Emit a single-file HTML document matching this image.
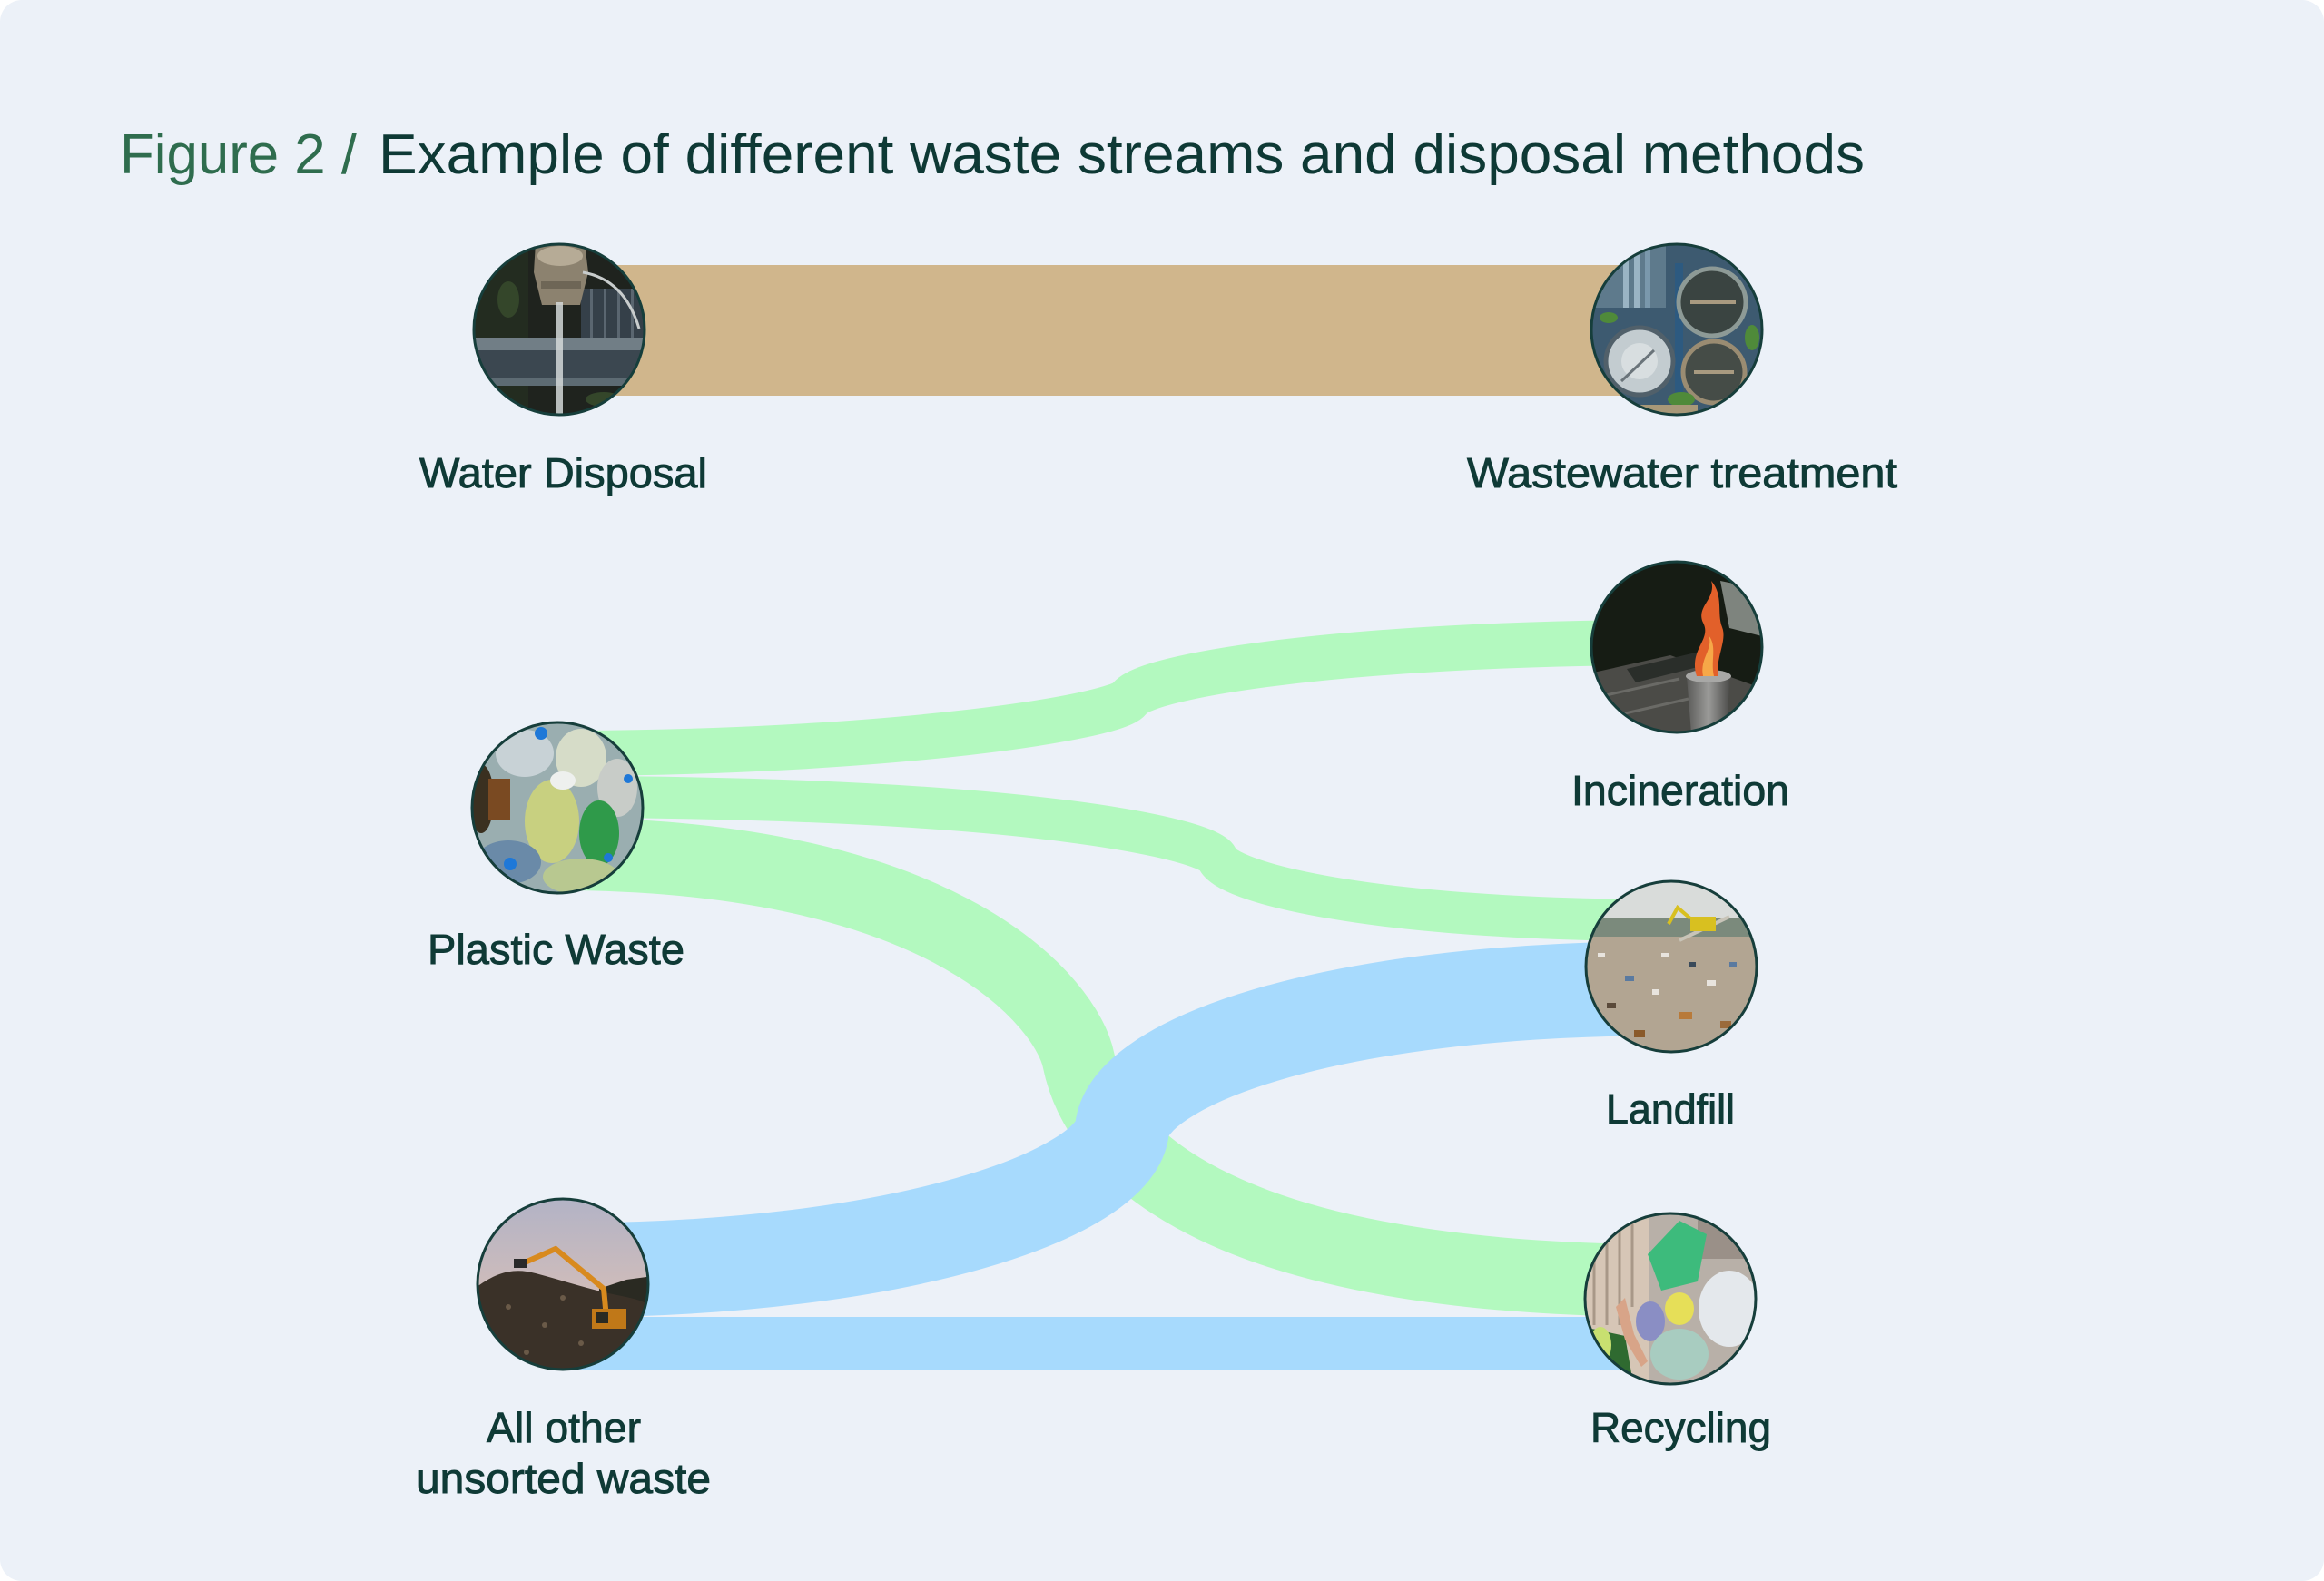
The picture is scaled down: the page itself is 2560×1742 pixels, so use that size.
<!DOCTYPE html>
<html>
<head>
<meta charset="utf-8">
<style>
html,body{margin:0;padding:0;background:#ffffff;width:2560px;height:1742px;overflow:hidden}
svg{display:block}
text{font-family:"Liberation Sans",Arial,sans-serif}
</style>
</head>
<body>
<svg width="2560" height="1742" viewBox="0 0 2560 1742" xmlns="http://www.w3.org/2000/svg">
<defs>
  <clipPath id="cw"><circle cx="616" cy="363" r="94"/></clipPath>
  <clipPath id="ct"><circle cx="1847" cy="363" r="94"/></clipPath>
  <clipPath id="ci"><circle cx="1847" cy="713" r="94"/></clipPath>
  <clipPath id="cp"><circle cx="614" cy="890" r="94"/></clipPath>
  <clipPath id="cl"><circle cx="1841" cy="1065" r="94"/></clipPath>
  <clipPath id="cu"><circle cx="620" cy="1415" r="94"/></clipPath>
  <clipPath id="cr"><circle cx="1840" cy="1431" r="94"/></clipPath>
  <linearGradient id="sky" x1="0" y1="0" x2="0" y2="1">
    <stop offset="0" stop-color="#b2b3c6"/>
    <stop offset="1" stop-color="#e8c4b0"/>
  </linearGradient>
  <linearGradient id="bin" x1="0" y1="0" x2="1" y2="0">
    <stop offset="0" stop-color="#5a5a58"/>
    <stop offset="0.5" stop-color="#9a9a98"/>
    <stop offset="1" stop-color="#4a4a48"/>
  </linearGradient>
</defs>

<!-- card -->
<rect x="0" y="0" width="2560" height="1742" rx="24" ry="24" fill="#ecf1f8"/>

<!-- title -->
<text x="132" y="191" font-size="62" fill="#2f6d4e" textLength="261" lengthAdjust="spacingAndGlyphs">Figure 2 /</text>
<text x="417" y="191" font-size="62" fill="#0e3935" textLength="1637" lengthAdjust="spacingAndGlyphs">Example of different waste streams and disposal methods</text>

<!-- tan flow -->
<rect x="616" y="292" width="1231" height="144" fill="#d0b68c"/>

<!-- green flows -->
<g fill="none" stroke="#b3f9bf">
  <path d="M614,830 C980,830 1232,790 1244,770 C1259,745 1480,708 1847,708" stroke-width="50"/>
  <path d="M614,878 C1150,878 1335,927 1341,946 C1348,970 1500,1014 1841,1014" stroke-width="46"/>
  <path d="M614,941 C1050,941 1176,1109 1188,1168 C1210,1276 1350,1411 1840,1411" stroke-width="80"/>
</g>

<!-- blue flows -->
<path d="M620,1399.5 C1000,1399.5 1228,1314 1236,1244 C1244,1174 1450,1089 1841,1089" fill="none" stroke="#a7dafd" stroke-width="104"/>
<rect x="620" y="1451" width="1220" height="58.5" fill="#a7dafd"/>

<!-- Water Disposal image -->
<g clip-path="url(#cw)">
  <rect x="520" y="267" width="192" height="194" fill="#1f231e"/>
  <rect x="520" y="267" width="62" height="194" fill="#232c20"/>
  <rect x="640" y="318" width="74" height="56" fill="#354049"/>
  <rect x="650" y="318" width="3" height="56" fill="#5a6670"/>
  <rect x="665" y="318" width="3" height="56" fill="#5a6670"/>
  <rect x="680" y="318" width="3" height="56" fill="#5a6670"/>
  <rect x="695" y="318" width="3" height="56" fill="#5a6670"/>
  <rect x="520" y="372" width="194" height="14" fill="#717e86"/>
  <rect x="520" y="386" width="194" height="30" fill="#3b4750"/>
  <rect x="520" y="416" width="194" height="9" fill="#5d6b73"/>
  <path d="M590,267 L644,267 L648,300 L639,336 L597,336 L588,300 Z" fill="#8c826f"/>
  <ellipse cx="617" cy="282" rx="25" ry="11" fill="#b6ab96"/>
  <rect x="596" y="310" width="44" height="8" fill="#6e6656"/>
  <rect x="612" y="333" width="8" height="130" fill="#d4d8d8" opacity="0.85"/>
  <path d="M642,300 Q688,308 704,362" stroke="#c8cccc" stroke-width="3" fill="none"/>
  <ellipse cx="560" cy="330" rx="12" ry="20" fill="#34462a"/>
  <ellipse cx="665" cy="440" rx="20" ry="8" fill="#34462a"/>
</g>

<!-- Wastewater treatment image -->
<g clip-path="url(#ct)">
  <rect x="1751" y="267" width="194" height="194" fill="#3d5a70"/>
  <rect x="1751" y="267" width="84" height="72" fill="#5e7a8c"/>
  <rect x="1788" y="267" width="6" height="72" fill="#9ab4c4"/>
  <rect x="1800" y="267" width="6" height="72" fill="#9ab4c4"/>
  <rect x="1812" y="267" width="6" height="72" fill="#7a98ac"/>
  <rect x="1845" y="290" width="9" height="170" fill="#2d5a80"/>
  <circle cx="1806" cy="398" r="37" fill="#c3ccd0" stroke="#51606a" stroke-width="5"/>
  <circle cx="1806" cy="398" r="20" fill="#d8dee0"/>
  <line x1="1786" y1="420" x2="1822" y2="386" stroke="#6a747a" stroke-width="3"/>
  <circle cx="1886" cy="333" r="37" fill="#3a4441" stroke="#8d9a96" stroke-width="5"/>
  <line x1="1862" y1="333" x2="1912" y2="333" stroke="#a89a80" stroke-width="4"/>
  <circle cx="1888" cy="410" r="34" fill="#454c47" stroke="#9a8c72" stroke-width="5"/>
  <line x1="1866" y1="410" x2="1910" y2="410" stroke="#a89a80" stroke-width="4"/>
  <ellipse cx="1852" cy="440" rx="15" ry="8" fill="#4f8a3a"/>
  <ellipse cx="1772" cy="350" rx="10" ry="6" fill="#4f8a3a"/>
  <ellipse cx="1930" cy="372" rx="8" ry="14" fill="#4f8a3a"/>
  <rect x="1780" y="446" width="90" height="14" fill="#a89878"/>
</g>

<!-- Incineration image -->
<g clip-path="url(#ci)">
  <rect x="1751" y="617" width="194" height="194" fill="#161c14"/>
  <path d="M1751,742 L1840,722 L1945,760 L1945,811 L1751,811 Z" fill="#4b4b47"/>
  <path d="M1751,770 L1850,748 M1751,795 L1860,770" stroke="#6a6a66" stroke-width="3"/>
  <path d="M1792,737 L1872,718 L1882,732 L1802,752 Z" fill="#2a2e2a"/>
  <path d="M1895,640 L1945,650 L1945,702 L1905,692 Z" fill="#7e847e"/>
  <path d="M1858,745 L1906,745 L1901,808 L1863,808 Z" fill="url(#bin)"/>
  <ellipse cx="1882" cy="745" rx="25" ry="7" fill="#a8a8a6"/>
  <path d="M1869,745 C1860,715 1886,705 1876,686 C1868,668 1891,660 1885,640 C1899,656 1891,676 1897,691 C1903,706 1889,726 1893,745 Z" fill="#e2602a"/>
  <path d="M1876,745 C1872,725 1888,715 1882,700 C1892,712 1884,728 1888,745 Z" fill="#f6a848"/>
</g>

<!-- Plastic Waste image -->
<g clip-path="url(#cp)">
  <rect x="518" y="794" width="194" height="194" fill="#9aaeb0"/>
  <ellipse cx="578" cy="830" rx="32" ry="26" fill="#c8d2d6"/>
  <ellipse cx="640" cy="835" rx="28" ry="32" fill="#d6dcc8"/>
  <ellipse cx="530" cy="880" rx="14" ry="38" fill="#3a3020"/>
  <rect x="538" y="858" width="24" height="46" fill="#7a4a22"/>
  <ellipse cx="608" cy="905" rx="30" ry="46" fill="#c8d080"/>
  <ellipse cx="680" cy="868" rx="22" ry="32" fill="#c8ccc8"/>
  <ellipse cx="660" cy="918" rx="22" ry="36" fill="#2f9a4a"/>
  <ellipse cx="560" cy="950" rx="36" ry="24" fill="#6a8aa8"/>
  <ellipse cx="640" cy="966" rx="42" ry="20" fill="#b8c890"/>
  <ellipse cx="620" cy="860" rx="14" ry="10" fill="#eef0ee"/>
  <circle cx="596" cy="808" r="7" fill="#1e78d8"/>
  <circle cx="562" cy="952" r="7" fill="#1e78d8"/>
  <circle cx="692" cy="858" r="5" fill="#1e78d8"/>
  <circle cx="670" cy="945" r="5" fill="#1e78d8"/>
</g>

<!-- Landfill image -->
<g clip-path="url(#cl)">
  <rect x="1745" y="969" width="194" height="194" fill="#b2a592"/>
  <rect x="1745" y="969" width="194" height="46" fill="#d9dcda"/>
  <rect x="1745" y="1012" width="194" height="20" fill="#7b8a7c"/>
  <path d="M1850,1036 L1905,1010" stroke="#c8c4b8" stroke-width="4"/>
  <rect x="1760" y="1050" width="8" height="5" fill="#e8e4de"/>
  <rect x="1790" y="1075" width="10" height="6" fill="#5a7aa0"/>
  <rect x="1820" y="1090" width="8" height="6" fill="#e8e4de"/>
  <rect x="1770" y="1105" width="10" height="6" fill="#5a4a3a"/>
  <rect x="1850" y="1115" width="14" height="8" fill="#b87a3a"/>
  <rect x="1880" y="1080" width="10" height="6" fill="#e8e4de"/>
  <rect x="1905" y="1060" width="8" height="6" fill="#5a7aa0"/>
  <rect x="1800" y="1135" width="12" height="8" fill="#8a5a2a"/>
  <rect x="1860" y="1060" width="8" height="6" fill="#3a4a5a"/>
  <rect x="1830" y="1050" width="8" height="5" fill="#e8e4de"/>
  <rect x="1895" y="1125" width="12" height="8" fill="#9a6a3a"/>
  <rect x="1862" y="1010" width="28" height="16" fill="#d8c020"/>
  <path d="M1862,1012 L1848,1000 L1838,1018" stroke="#d8c020" stroke-width="4" fill="none"/>
</g>

<!-- Unsorted image -->
<g clip-path="url(#cu)">
  <rect x="524" y="1319" width="194" height="194" fill="url(#sky)"/>
  <path d="M660,1420 L690,1410 L720,1406 L720,1445 L660,1432 Z" fill="#2a2a22"/>
  <path d="M520,1422 C545,1402 565,1396 590,1403 C620,1411 650,1421 680,1427 C700,1431 712,1434 720,1442 L720,1515 L520,1515 Z" fill="#3a3128"/>
  <circle cx="560" cy="1440" r="3" fill="#6a5a48"/>
  <circle cx="600" cy="1460" r="3" fill="#6a5a48"/>
  <circle cx="640" cy="1480" r="3" fill="#6a5a48"/>
  <circle cx="580" cy="1490" r="3" fill="#6a5a48"/>
  <circle cx="620" cy="1430" r="3" fill="#6a5a48"/>
  <path d="M576,1392 L612,1376 L665,1420 L668,1452" stroke="#d88a1e" stroke-width="6" fill="none"/>
  <rect x="566" y="1387" width="14" height="10" fill="#2a2a2a"/>
  <rect x="652" y="1442" width="38" height="22" fill="#c07818"/>
  <rect x="656" y="1446" width="14" height="12" fill="#2a2a22"/>
</g>

<!-- Recycling image -->
<g clip-path="url(#cr)">
  <rect x="1744" y="1335" width="194" height="194" fill="#b8b0a8"/>
  <rect x="1744" y="1335" width="72" height="194" fill="#d6c6b6"/>
  <path d="M1756,1335 L1756,1460 M1770,1335 L1770,1460 M1784,1335 L1784,1460 M1798,1335 L1798,1440" stroke="#a89888" stroke-width="3"/>
  <rect x="1870" y="1335" width="72" height="52" fill="#9a9088"/>
  <path d="M1815,1382 L1850,1345 L1880,1360 L1870,1412 L1830,1422 Z" fill="#3dbb7c"/>
  <ellipse cx="1905" cy="1442" rx="34" ry="42" fill="#e4e8ec"/>
  <ellipse cx="1850" cy="1442" rx="16" ry="18" fill="#e6df58"/>
  <ellipse cx="1818" cy="1456" rx="16" ry="22" fill="#8a8ec4"/>
  <ellipse cx="1850" cy="1492" rx="32" ry="28" fill="#a8ccc0"/>
  <path d="M1744,1462 L1790,1472 L1800,1530 L1744,1530 Z" fill="#2f6a30"/>
  <ellipse cx="1763" cy="1482" rx="12" ry="20" fill="#c8e070"/>
  <path d="M1790,1430 L1800,1470 L1815,1500 L1808,1506 L1790,1476 L1780,1440 Z" fill="#d8a488"/>
</g>

<!-- circle outlines -->
<g fill="none" stroke="#163e3b" stroke-width="3">
  <circle cx="616" cy="363" r="94"/>
  <circle cx="1847" cy="363" r="94"/>
  <circle cx="1847" cy="713" r="94"/>
  <circle cx="614" cy="890" r="94"/>
  <circle cx="1841" cy="1065" r="94"/>
  <circle cx="620" cy="1415" r="94"/>
  <circle cx="1840" cy="1431" r="94"/>
</g>

<!-- labels -->
<g font-size="46" fill="#0f3a36" stroke="#0f3a36" stroke-width="0.9">
  <text x="462" y="537" textLength="317" lengthAdjust="spacingAndGlyphs">Water Disposal</text>
  <text x="1616" y="537" textLength="474" lengthAdjust="spacingAndGlyphs">Wastewater treatment</text>
  <text x="1731" y="887" textLength="240" lengthAdjust="spacingAndGlyphs">Incineration</text>
  <text x="471" y="1062" textLength="283" lengthAdjust="spacingAndGlyphs">Plastic Waste</text>
  <text x="1769" y="1238" textLength="142" lengthAdjust="spacingAndGlyphs">Landfill</text>
  <text x="536" y="1589" textLength="170" lengthAdjust="spacingAndGlyphs">All other</text>
  <text x="458" y="1645" textLength="325" lengthAdjust="spacingAndGlyphs">unsorted waste</text>
  <text x="1752" y="1589" textLength="199" lengthAdjust="spacingAndGlyphs">Recycling</text>
</g>
</svg>
</body>
</html>
